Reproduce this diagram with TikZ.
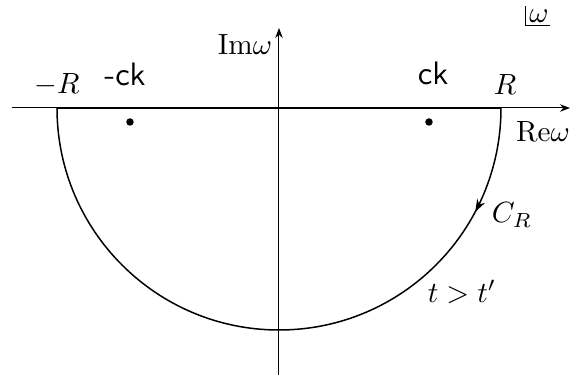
\documentclass[tikz,border=0pt]{standalone}
\usetikzlibrary{arrows.meta,decorations.markings}
\begin{document}
\begin{tikzpicture}[x=0.4pt,y=0.4pt,
  axis/.style={line width=0.4pt,-{Stealth[length=4pt,width=3pt]}},
  contour/.style={line width=0.6pt},
  realseg/.style={line width=0.8pt},
  pole/.style={circle,fill=black,inner sep=0pt,minimum size=3pt},
  lbl/.style={inner sep=0pt,scale=1.17},
  sflbl/.style={inner sep=0pt,scale=1.3,font=\sffamily}]
\useasboundingbox (0,0) rectangle (582,381);
\coordinate (O) at (279,273);
\coordinate (xl) at (12,273);
\coordinate (xr) at (570,273);
\coordinate (yb) at (279,6);
\coordinate (yt) at (279,353);
\coordinate (mR) at (57,273);
\coordinate (pR) at (501,273);
\draw[axis] (xl) -- (xr);
\draw[axis] (yb) -- (yt);
\draw[contour,postaction={decorate},decoration={markings,mark=at position 0.155 with {\arrow{Stealth[length=5pt,width=3.5pt]}}}]
  (pR) arc[start angle=0,end angle=-180,radius=222];
\draw[realseg] (mR) -- (pR);
\node[pole] (p1) at (130,259) {};
\node[pole] (p2) at (429,259) {};
\node[lbl] (im) at (245,336) {$\mathrm{Im}\omega$};
\node[lbl] (re) at (543,249) {$\mathrm{Re}\omega$};
\node[lbl] (lR) at (57,296) {$-R$};
\node[lbl] (rR) at (505,296) {$R$};
\node[sflbl] (lck) at (125,307) {-ck};
\node[sflbl] (rck) at (433,308) {ck};
\node[lbl] (cr) at (512,166) {$C_R$};
\node[lbl] (tt) at (462,89) {$t>t'$};
\node[lbl] (w) at (539,365) {$\omega$};
\coordinate (c1) at (526,375);
\coordinate (c2) at (526,355);
\coordinate (c3) at (550,355);
\draw[line width=0.4pt] (c1) -- (c2) -- (c3);
\end{tikzpicture}
\end{document}
